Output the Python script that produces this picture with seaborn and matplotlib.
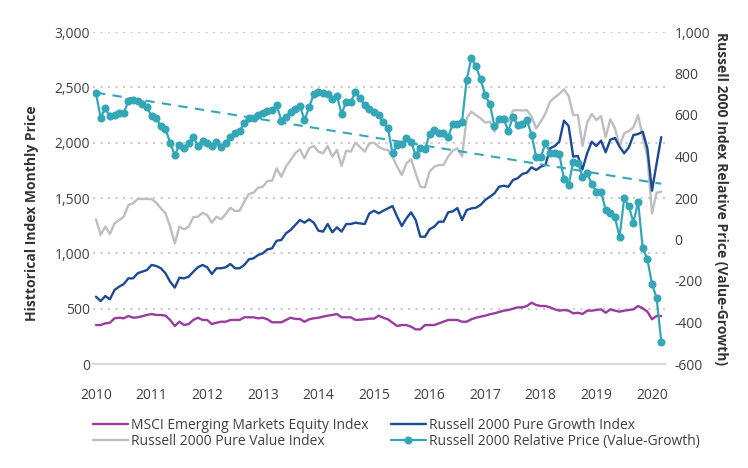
import numpy as np
import pandas as pd
import matplotlib
matplotlib.use("Agg")
import matplotlib.pyplot as plt
import seaborn as sns
from matplotlib.ticker import FuncFormatter, FixedLocator

sns.set_theme(style="white")
plt.rcParams['font.family'] = ['Open Sans', 'DejaVu Sans']

# ---------------- data (monthly, Jan 2010 - Mar 2020) ----------------
start_month = "2010-01-01"
n_months = 123

msci_em = [
    352, 352, 367, 373, 413, 418, 413, 434, 418, 422, 432,
    443, 452, 443, 443, 437, 398, 343, 382, 352, 361,
    398, 418, 398, 398, 361, 373, 382, 382, 398, 398,
    398, 422, 422, 422, 413, 418, 404, 377, 377, 377,
    398, 418, 407, 407, 382, 404,
    413, 418, 428, 437, 443, 452, 422, 422, 422, 398,
    400,
    404, 410, 410, 437, 418, 404, 373, 343, 352, 352,
    337, 313, 313, 352, 352, 352, 367, 382, 398, 398,
    398, 382, 382, 404, 418, 428, 437, 449, 458, 470,
    482, 488, 500, 512, 512, 524, 554,
    533, 524, 524, 512, 494, 482, 488, 482, 458, 463,
    452, 482, 482, 488, 494, 463, 494, 482, 473, 482,
    488, 494, 524, 503, 473, 404, 434, 434,
]

pure_value = [
    1307, 1166, 1241, 1175, 1271, 1301, 1331, 1437, 1452, 1491, 1491,
    1491, 1491, 1458, 1407, 1362, 1241, 1090, 1241, 1217, 1241,
    1326, 1331, 1367, 1346, 1277, 1331, 1307, 1355, 1412, 1382,
    1385, 1467, 1536, 1548, 1593, 1602, 1654, 1656, 1768, 1692,
    1783, 1843, 1904, 1940, 1859, 1949,
    1970, 1919, 1904, 1970, 1874, 1934, 1789, 1928, 1919, 2000,
    1960,
    1919, 1994, 2000, 1964, 1940, 1934, 1874, 1783, 1708, 1813,
    1850, 1723, 1602, 1596, 1738, 1783, 1798, 1798, 1874, 1928,
    1949, 1874, 2220, 2280, 2250, 2220, 2181, 2190, 2100, 2190,
    2235, 2190, 2290, 2295, 2290, 2295, 2235,
    2130, 2190, 2265, 2370, 2410, 2440, 2482, 2422, 2250, 2250,
    1970, 2181, 2259, 2205, 2241, 2048, 2211, 2130, 1964, 2084,
    2105, 2139, 2250, 2054, 1874, 1362, 1548, 1557,
]

pure_growth = [
    608, 569, 614, 585, 669, 699, 723, 774, 774, 820, 835,
    849, 895, 886, 865, 820, 744, 690, 780, 774, 789,
    834, 874, 895, 874, 813, 865, 865, 874, 904, 865,
    865, 895, 946, 955, 985, 1000, 1036, 1045, 1114, 1120,
    1181, 1211, 1256, 1301, 1277, 1307,
    1277, 1205, 1196, 1265, 1190, 1235, 1196, 1265, 1265, 1277,
    1270,
    1265, 1361, 1385, 1361, 1385, 1406, 1427, 1331, 1247, 1316,
    1370, 1301, 1150, 1150, 1217, 1241, 1286, 1286, 1370, 1379,
    1409, 1301, 1391, 1406, 1412, 1437, 1482, 1512, 1542, 1602,
    1611, 1602, 1663, 1678, 1717, 1729, 1777,
    1753, 1783, 1798, 1949, 1970, 2009, 2199, 2151, 1874, 1880,
    1759, 1904, 2009, 1970, 2018, 1913, 2027, 2042, 1964, 1904,
    1958, 2069, 2078, 2099, 1949, 1566, 1813, 2051,
]

relative_price = [
    705, 587, 632, 595, 600, 611, 611, 667, 672, 667, 655,
    637, 595, 584, 547, 531, 467, 407, 455, 441, 465,
    494, 451, 476, 466, 451, 470, 447, 463, 495, 515,
    524, 560, 584, 584, 600, 611, 621, 624, 647, 573,
    592, 613, 627, 643, 576, 637,
    701, 712, 707, 701, 676, 692, 605, 664, 664, 712,
    680,
    648, 627, 616, 600, 568, 536, 415, 455, 460, 488,
    471, 407, 439, 435, 508, 528, 515, 512, 493, 557,
    557, 568, 769, 873, 836, 772, 696, 653, 547, 579,
    579, 524, 592, 552, 557, 576, 504,
    399, 396, 464, 418, 418, 412, 290, 263, 375, 370,
    303, 322, 267, 230, 230, 142, 129, 107, 13, 199,
    161, 81, 182, -42, -95, -214, -283, -492,
]

series_labels = [
    "MSCI Emerging Markets Equity Index",
    "Russell 2000 Pure Value Index",
    "Russell 2000 Pure Growth Index",
    "Russell 2000 Relative Price (Value-Growth)",
]
year_ticks = list(range(2010, 2021))
left_ticks = [0, 500, 1000, 1500, 2000, 2500, 3000]
right_ticks = [-600, -400, -200, 0, 200, 400, 600, 800, 1000]
left_title = "Histtorical Index Monthly Price"
right_title = "Russell 2000 Index Relative Price (Value-Growth)"

# ---------------- build frame ----------------
dates = pd.date_range(start_month, periods=n_months, freq="MS")
t = dates.year + (dates.month - 1) / 12.0
df = pd.DataFrame({
    "t": t,
    "msci": msci_em,
    "value": pure_value,
    "growth": pure_growth,
    "rel": relative_price,
})
coef = np.polyfit(df["t"], df["rel"], 1)
df["trend"] = np.polyval(coef, df["t"])

purple = "#9A3C9E"
grey = "#BEBEBE"
navy = "#1C4A94"
teal = "#33A6B7"
txt = "#404040"

fig = plt.figure(figsize=(7.48, 4.68), dpi=100)
ax = fig.add_axes([93 / 748, 1 - 364 / 468, (665 - 93) / 748, (364 - 32) / 468])
ax2 = ax.twinx()

sns.lineplot(data=df, x="t", y="msci", ax=ax, color=purple, lw=1.7,
             label=series_labels[0], legend=False)
sns.lineplot(data=df, x="t", y="value", ax=ax, color=grey, lw=1.7,
             label=series_labels[1], legend=False)
sns.lineplot(data=df, x="t", y="growth", ax=ax, color=navy, lw=1.7,
             label=series_labels[2], legend=False)
sns.lineplot(data=df, x="t", y="trend", ax=ax2, color=teal, lw=1.5,
             linestyle=(0, (4.5, 3.5)), legend=False)
sns.lineplot(data=df, x="t", y="rel", ax=ax2, color=teal, lw=1.6,
             marker="o", markersize=5.8, markeredgewidth=0,
             label=series_labels[3], legend=False)

# axes ranges
ax.set_xlim(2010 - 3 / 55.6, 2010 + 569 / 55.6)
ax.set_ylim(0, 3000)
ax2.set_ylim(-600, 1000)

ax.xaxis.set_major_locator(FixedLocator(year_ticks))
ax.xaxis.set_major_formatter(FuncFormatter(lambda v, p: f"{int(round(v))}"))
ax.yaxis.set_major_locator(FixedLocator(left_ticks))
ax.yaxis.set_major_formatter(FuncFormatter(lambda v, p: f"{int(v):,}"))
ax2.yaxis.set_major_locator(FixedLocator(right_ticks))
ax2.yaxis.set_major_formatter(FuncFormatter(lambda v, p: f"{int(v):,}"))

ax.tick_params(axis="y", length=0, pad=2, labelsize=10, labelcolor=txt)
ax.tick_params(axis="x", length=0, pad=17, labelsize=10, labelcolor=txt)
ax2.tick_params(axis="y", length=0, pad=7, labelsize=10, labelcolor=txt)

ax.set_xlabel("")
ax.set_ylabel(left_title, fontsize=10, fontweight="bold", color="#333333",
              rotation=90, va="center", ha="center")
ax.yaxis.set_label_coords(-61 / 572, (364 - 213) / 332)
ax2.set_ylabel(right_title, fontsize=10, fontweight="bold", color="#333333",
               rotation=270, va="center", ha="center")
ax2.yaxis.set_label_coords((721 - 93) / 572, 0.5)

ax.yaxis.grid(True, linestyle=(0, (1, 2.6)), color="#CCCCCC", lw=1.5)
ax.set_axisbelow(True)
for a in (ax, ax2):
    for s in ("top", "left", "right"):
        a.spines[s].set_visible(False)
    a.spines["bottom"].set_color("#D9D9D9")
    a.spines["bottom"].set_linewidth(1.2)

h1, l1 = ax.get_legend_handles_labels()
h2, l2 = ax2.get_legend_handles_labels()
handles = h1 + h2
labels = l1 + l2
order = [labels.index(s) for s in series_labels]
fig.legend([handles[i] for i in order], [labels[i] for i in order],
           loc="upper left", bbox_to_anchor=(93 / 748, 1 - 418 / 468),
           ncol=2, frameon=False, fontsize=10, borderpad=0, borderaxespad=0,
           handlelength=2.5, handletextpad=0.25, columnspacing=1.6,
           labelspacing=0.08, numpoints=1, labelcolor=txt)

fig.savefig("out.png", dpi=100)
